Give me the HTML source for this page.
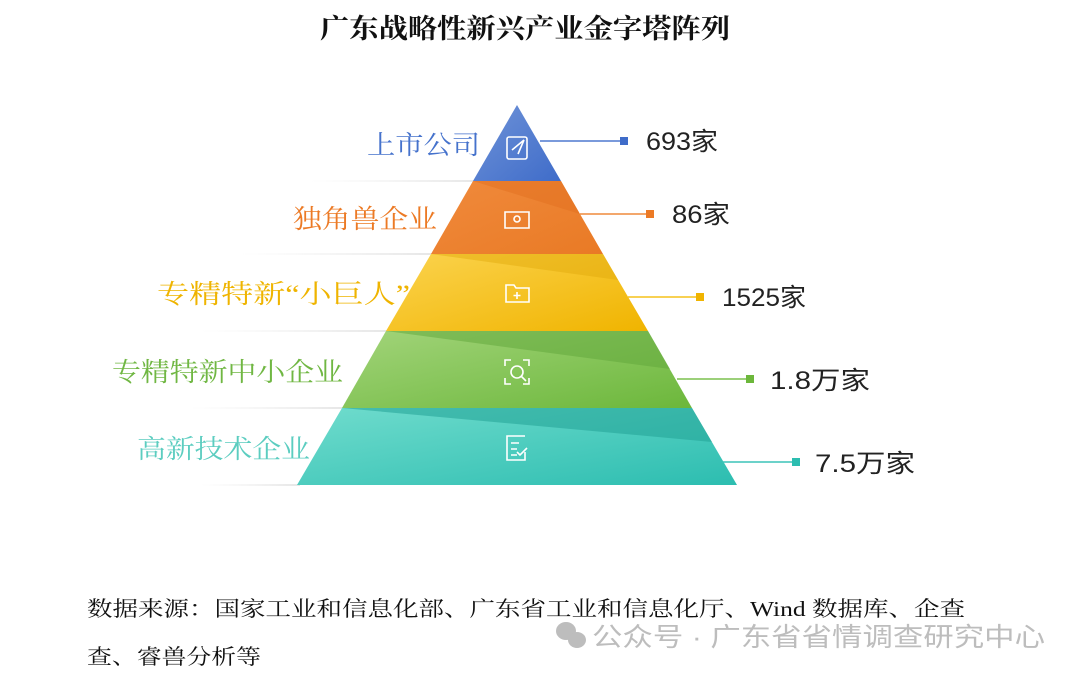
<!DOCTYPE html>
<html><head><meta charset="utf-8"><style>
html,body{margin:0;padding:0;background:#fff;}
svg{display:block}
.s{font-family:"Liberation Serif","Noto Serif CJK SC",serif}
.k{font-family:"Liberation Sans","Noto Sans CJK SC",sans-serif}
</style></head><body>
<svg width="1080" height="678" viewBox="0 0 1080 678" xmlns="http://www.w3.org/2000/svg">
<defs>
<linearGradient id="gb" x1="0" y1="0" x2="1" y2="1"><stop offset="0" stop-color="#6f93d8"/><stop offset="1" stop-color="#3f6cc9"/></linearGradient>
<linearGradient id="go" x1="0" y1="0" x2="1" y2="1"><stop offset="0" stop-color="#f08a3c"/><stop offset="1" stop-color="#e97a25"/></linearGradient>
<linearGradient id="gy" x1="0" y1="0" x2="1" y2="1"><stop offset="0" stop-color="#fbd34e"/><stop offset="1" stop-color="#f0b400"/></linearGradient>
<linearGradient id="gg" x1="0" y1="0" x2="1" y2="1"><stop offset="0" stop-color="#a2d47a"/><stop offset="1" stop-color="#6cb73b"/></linearGradient>
<linearGradient id="gt" x1="0" y1="0" x2="1" y2="1"><stop offset="0" stop-color="#70dccd"/><stop offset="1" stop-color="#2cbdb0"/></linearGradient>
<linearGradient id="fl" x1="0" x2="1"><stop offset="0" stop-color="#eee" stop-opacity="0"/><stop offset="1" stop-color="#e6e6e6"/></linearGradient>
</defs>
<text class="s" x="525" y="38" text-anchor="middle" font-size="27" font-weight="bold" fill="#111" textLength="410" lengthAdjust="spacingAndGlyphs">广东战略性新兴产业金字塔阵列</text>
<!-- faint left lines -->
<rect x="310" y="180" width="170" height="2" fill="url(#fl)"/>
<rect x="240" y="253" width="195" height="2" fill="url(#fl)"/>
<rect x="200" y="330" width="190" height="2" fill="url(#fl)"/>
<rect x="190" y="407" width="155" height="2" fill="url(#fl)"/>
<rect x="200" y="484" width="100" height="2" fill="url(#fl)"/>
<!-- pyramid -->
<polygon points="517,105 561,181 473,181" fill="url(#gb)"/>
<polygon points="473,181 561,181 603,254 431,254" fill="url(#go)"/>
<polygon points="473,181 561,181 580,214" fill="#e26f1f" opacity="0.5"/>
<polygon points="431,254 603,254 648,331 386,331" fill="url(#gy)"/>
<polygon points="431,254 603,254 618,280" fill="#dfa90a" opacity="0.45"/>
<polygon points="386,331 648,331 692,408 342,408" fill="url(#gg)"/>
<polygon points="386,331 648,331 670,369" fill="#5fa63a" opacity="0.5"/>
<polygon points="342,408 692,408 737,485 297,485" fill="url(#gt)"/>
<polygon points="342,408 692,408 712,442" fill="#22a396" opacity="0.55"/>
<!-- icons -->
<g fill="none" stroke="#fff" stroke-width="1.6">
<rect x="507" y="137" width="20" height="22" rx="2"/><path d="M512 150 L524 140 L518 154"/>
<path d="M505 212 L529 212 L529 228 L505 228 Z"/><circle cx="517" cy="219" r="3"/>
<path d="M506 285 L514 285 L516 288 L529 288 L529 302 L506 302 Z"/><path d="M517 292 v7 M513.5 295.5 h7"/>
<path d="M505 366 v-6 h6 M523 360 h6 v6 M505 378 v6 h6 M529 378 v6 h-6"/><circle cx="517" cy="372" r="6"/><path d="M521 376 l5 5"/>
<path d="M525 436 H507 V460 H525 V452"/><path d="M511 443 h8 M511 449 h6 M511 455 h6 M517 452 l3 3 l7 -7"/>
</g>
<!-- connectors -->
<line x1="540" y1="141" x2="624" y2="141" stroke="#4f79cf" stroke-width="1.5"/><rect x="620" y="137" width="8" height="8" fill="#3f6cc9"/>
<line x1="580" y1="214" x2="650" y2="214" stroke="#ef8a3c" stroke-width="1.5"/><rect x="646" y="210" width="8" height="8" fill="#ec7a25"/>
<line x1="628" y1="297" x2="700" y2="297" stroke="#f5c21a" stroke-width="1.5"/><rect x="696" y="293" width="8" height="8" fill="#f0b400"/>
<line x1="677" y1="379" x2="750" y2="379" stroke="#7cc04e" stroke-width="1.5"/><rect x="746" y="375" width="8" height="8" fill="#6cb73b"/>
<line x1="722" y1="462" x2="796" y2="462" stroke="#3cc4b8" stroke-width="1.5"/><rect x="792" y="458" width="8" height="8" fill="#2cbdb0"/>
<!-- labels -->
<g class="s" font-size="26">
<text x="367" y="154" fill="#4572cc" textLength="113" lengthAdjust="spacingAndGlyphs">上市公司</text>
<text x="293" y="228" fill="#ec7a25" textLength="144" lengthAdjust="spacingAndGlyphs">独角兽企业</text>
<text x="157" y="303" fill="#efb400" textLength="253" lengthAdjust="spacingAndGlyphs">专精特新“小巨人”</text>
<text x="112" y="381" fill="#70b743" textLength="231" lengthAdjust="spacingAndGlyphs">专精特新中小企业</text>
<text x="137" y="458" fill="#5ccdc0" textLength="173" lengthAdjust="spacingAndGlyphs">高新技术企业</text>
</g>
<g class="k" font-size="25" fill="#222">
<text x="646" y="150" textLength="72" lengthAdjust="spacingAndGlyphs">693家</text>
<text x="672" y="223" textLength="58" lengthAdjust="spacingAndGlyphs">86家</text>
<text x="722" y="306" textLength="84" lengthAdjust="spacingAndGlyphs">1525家</text>
<text x="770" y="389" textLength="100" lengthAdjust="spacingAndGlyphs">1.8万家</text>
<text x="815" y="472" textLength="100" lengthAdjust="spacingAndGlyphs">7.5万家</text>
</g>
<!-- footer -->
<text class="s" x="87" y="616" font-size="21" fill="#111" textLength="878" lengthAdjust="spacingAndGlyphs">数据来源：国家工业和信息化部、广东省工业和信息化厅、Wind 数据库、企查</text>
<text class="s" x="87" y="664" font-size="21" fill="#111" textLength="174" lengthAdjust="spacingAndGlyphs">查、睿兽分析等</text>
<g fill="#bdbdbd">
<ellipse cx="566" cy="631" rx="10" ry="9"/><ellipse cx="577" cy="640" rx="9" ry="8"/>
</g>
<text class="k" x="592" y="646" font-size="26" fill="#bdbdbd" textLength="453" lengthAdjust="spacingAndGlyphs">公众号 · 广东省省情调查研究中心</text>
</svg>
</body></html>
